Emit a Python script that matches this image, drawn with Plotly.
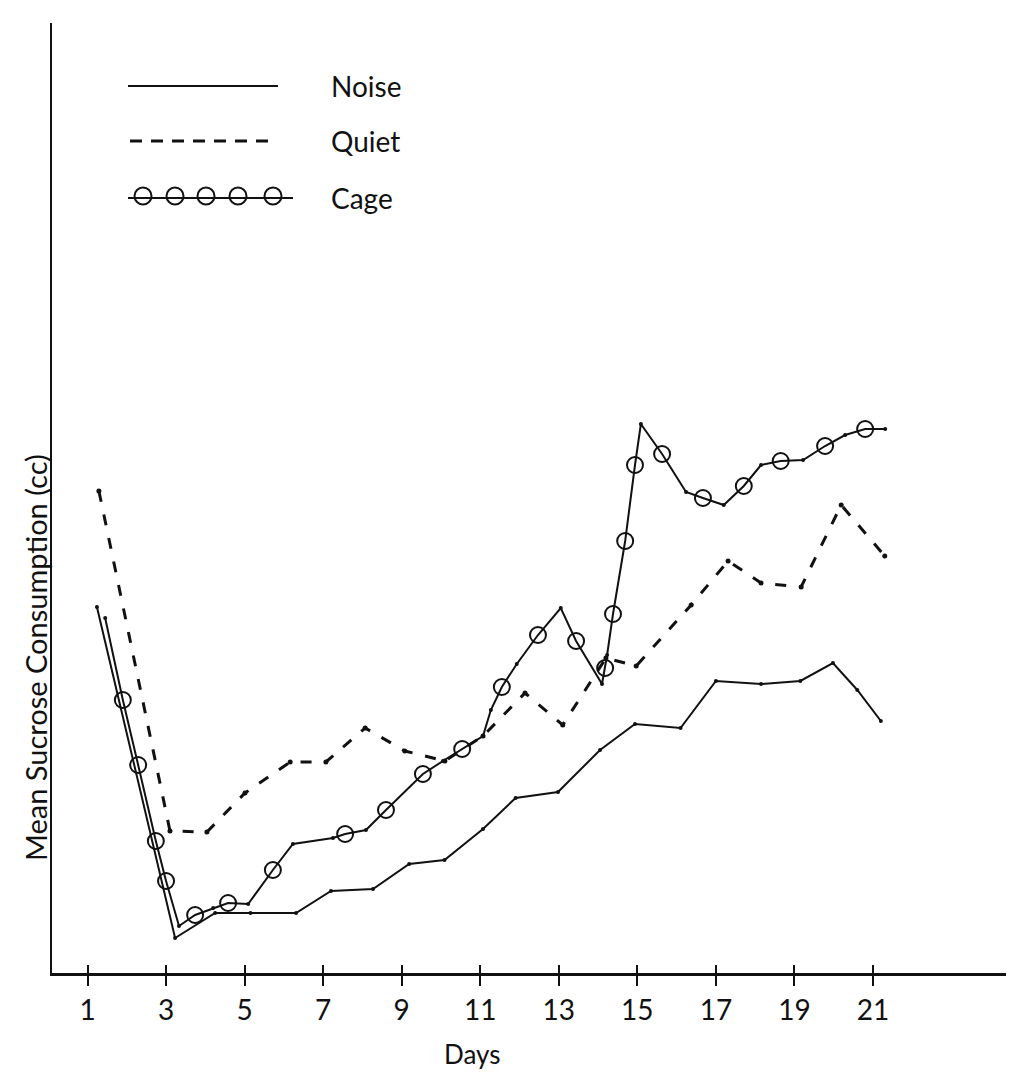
import plotly.graph_objects as go

# ---------------- data (y in arbitrary cc units) ----------------
noise_days = [1.24, 3.23, 4.25, 5.15, 6.31, 7.2, 8.27, 9.19, 10.09, 11.07, 11.9, 12.98,
              14.05, 14.94, 16.1, 17.0, 18.15, 19.15, 19.98, 20.6, 21.2]
noise_vals = [3.66, 0.35, 0.60, 0.60, 0.60, 0.82, 0.84, 1.09, 1.13, 1.44, 1.75, 1.81,
              2.23, 2.49, 2.45, 2.92, 2.89, 2.92, 3.10, 2.83, 2.52]

quiet_days = [1.29, 3.10, 4.04, 5.01, 6.16, 7.07, 8.07, 9.08, 10.1, 11.07, 12.14, 13.1,
              14.2, 14.97, 16.37, 17.31, 18.15, 19.17, 20.19, 21.3]
quiet_vals = [4.82, 1.42, 1.41, 1.80, 2.11, 2.11, 2.45, 2.22, 2.12, 2.37, 2.80, 2.48,
              3.15, 3.07, 3.68, 4.12, 3.90, 3.86, 4.68, 4.17]

# Cage: plotted points (dots) and the ring markers that sit on the same line
cage_dot_days = [1.45, 3.33, 4.2, 5.09, 6.23, 7.25, 8.09, 10.05, 11.07, 11.27, 11.93, 13.05,
                 14.1, 14.23, 15.09, 16.24, 17.2, 18.15, 19.22, 20.29, 21.31]
cage_dot_vals = [3.55, 0.47, 0.65, 0.69, 1.29, 1.35, 1.43, 2.12, 2.37, 2.63, 3.09, 3.65,
                 2.89, 3.18, 5.49, 4.81, 4.68, 5.08, 5.13, 5.38, 5.44]
cage_ring_days = [1.90, 2.29, 2.74, 3.0, 3.74, 4.58, 5.72, 7.56, 8.6, 9.54, 10.54, 11.55,
                  12.47, 13.44, 14.18, 14.38, 14.69, 14.94, 15.63, 16.67, 17.71, 18.65,
                  19.78, 20.8]
cage_ring_vals = [2.73, 2.08, 1.32, 0.92, 0.58, 0.70, 1.03, 1.39, 1.63, 1.99, 2.24, 2.86,
                  3.38, 3.32, 3.05, 3.59, 4.32, 5.08, 5.19, 4.75, 4.87, 5.12, 5.27, 5.44]

tick_days = [1, 3, 5, 7, 9, 11, 13, 15, 17, 19, 21]
tick_labels = [str(d) for d in tick_days]

series_names = ["Noise", "Quiet", "Cage"]
x_title = "Days"
y_title = "Mean Sucrose Consumption (cc)"

# ---------------- figure ----------------
W, H = 1014, 1075
ML, MR, MT, MB = 44, 0, 15, 110
PW, PH = W - ML - MR, H - MT - MB


def px(x):
    return (x - ML) / PW


def py(y):
    return (H - MB - y) / PH


FONT = "Lato"
INK = "#111111"

cage_pts = sorted(zip(cage_dot_days + cage_ring_days, cage_dot_vals + cage_ring_vals))
cage_line_days = [p[0] for p in cage_pts]
cage_line_vals = [p[1] for p in cage_pts]

fig = go.Figure()

fig.add_trace(go.Scatter(x=noise_days, y=noise_vals, mode="lines+markers", name=series_names[0],
                         line=dict(color=INK, width=2),
                         marker=dict(color=INK, size=4), showlegend=False))
fig.add_trace(go.Scatter(x=quiet_days, y=quiet_vals, mode="lines+markers", name=series_names[1],
                         line=dict(color=INK, width=3, dash="11px,13px"),
                         marker=dict(color=INK, size=5), showlegend=False))
fig.add_trace(go.Scatter(x=cage_line_days, y=cage_line_vals, mode="lines", name=series_names[2],
                         line=dict(color=INK, width=2), showlegend=False))
fig.add_trace(go.Scatter(x=cage_dot_days, y=cage_dot_vals, mode="markers", name=series_names[2],
                         marker=dict(color=INK, size=4), showlegend=False))
fig.add_trace(go.Scatter(x=cage_ring_days, y=cage_ring_vals, mode="markers", name=series_names[2],
                         marker=dict(symbol="circle-open", color=INK, size=16,
                                     line=dict(width=2, color=INK)), showlegend=False))
# invisible trace to carry the inner half of the tick marks
fig.add_trace(go.Scatter(x=noise_days, y=noise_vals, xaxis="x2", mode="lines",
                         line=dict(width=0), opacity=0, hoverinfo="skip", showlegend=False))

x_lo = 1 - (79.5 - ML) / 39.275
x_hi = 1 + (W - MR - 79.5) / 39.275

fig.update_layout(
    width=W, height=H, autosize=False,
    margin=dict(l=ML, r=MR, t=MT, b=MB),
    paper_bgcolor="white", plot_bgcolor="white",
    font=dict(family=FONT, color=INK),
    xaxis=dict(range=[x_lo, x_hi], tickmode="array", tickvals=tick_days, ticktext=tick_labels,
               ticks="outside", ticklen=10, tickwidth=2, tickcolor=INK,
               showline=True, linewidth=3, linecolor=INK, showgrid=False, zeroline=False,
               tickfont=dict(family=FONT, size=28, color=INK)),
    xaxis2=dict(range=[x_lo, x_hi], overlaying="x", anchor="y", side="bottom",
                tickmode="array", tickvals=tick_days, ticks="inside", ticklen=8, tickwidth=2,
                tickcolor=INK, showticklabels=False, showline=False, showgrid=False,
                zeroline=False),
    yaxis=dict(range=[0, 9.5], showline=True, linewidth=2, linecolor=INK, ticks="",
               showticklabels=False, showgrid=False, zeroline=False),
    hovermode=False,
)

# axis titles placed as in the original
fig.add_annotation(text=x_title, xref="paper", yref="paper", x=px(464), y=py(1046),
                   xanchor="center", yanchor="middle",
                   showarrow=False, font=dict(size=26, family=FONT, color=INK))
fig.add_annotation(text=y_title, xref="paper", yref="paper", x=px(27), y=py(650),
                   xanchor="center", yanchor="middle",
                   textangle=-90, showarrow=False, font=dict(size=29, family=FONT, color=INK))

# legend key drawn as in the original figure
key_rows = [78, 133, 190]
fig.add_shape(type="line", xref="paper", yref="paper", x0=px(120), x1=px(270),
              y0=py(key_rows[0]), y1=py(key_rows[0]), line=dict(color=INK, width=2))
fig.add_shape(type="line", xref="paper", yref="paper", x0=px(122), x1=px(267),
              y0=py(key_rows[1]), y1=py(key_rows[1]), line=dict(color=INK, width=3, dash="12px,9px"))
fig.add_shape(type="line", xref="paper", yref="paper", x0=px(120), x1=px(285),
              y0=py(key_rows[2]), y1=py(key_rows[2]), line=dict(color=INK, width=2))
for cx in [135, 167, 198, 230, 265]:
    fig.add_shape(type="circle", xref="paper", yref="paper", xsizemode="pixel", ysizemode="pixel",
                  xanchor=px(cx), yanchor=py(key_rows[2] - 2), x0=-8.5, x1=8.5, y0=-8.5, y1=8.5,
                  line=dict(color=INK, width=2), fillcolor="rgba(0,0,0,0)")
for name, row in zip(series_names, key_rows):
    fig.add_annotation(text=name, xref="paper", yref="paper", x=px(321), y=py(row),
                       xanchor="left", yanchor="middle", showarrow=False,
                       font=dict(size=28, family=FONT, color=INK))

fig.write_html("out.html")
